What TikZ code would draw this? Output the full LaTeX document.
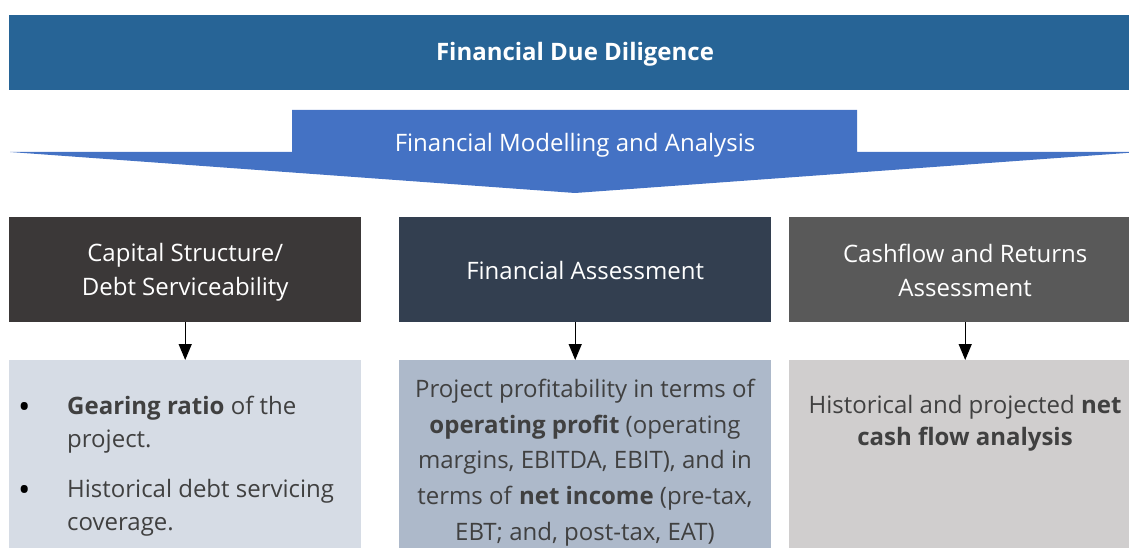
\documentclass[tikz,border=0pt]{standalone}
\usepackage{fontspec}
\setmainfont{Open Sans}
\usetikzlibrary{arrows.meta}
\definecolor{banner}{HTML}{276496}
\definecolor{arrowblue}{HTML}{4472C4}
\definecolor{hdA}{HTML}{3B3838}
\definecolor{hdB}{HTML}{333F50}
\definecolor{hdC}{HTML}{595959}
\definecolor{loA}{HTML}{D6DCE5}
\definecolor{loB}{HTML}{ADB9CA}
\definecolor{loC}{HTML}{D0CECE}
\definecolor{bodytext}{HTML}{404040}
\newcommand{\bigbul}{\textcolor{black}{\raisebox{-4pt}{\fontsize{33}{33}\selectfont\textbullet}}}
\begin{document}
\begin{tikzpicture}[x=1pt,y=-1pt,
  hdbox/.style={rectangle,inner sep=0pt,anchor=north west},
  hdtext/.style={text=white,align=center,inner sep=0pt,font=\fontsize{24}{34}\selectfont},
  lobox/.style={rectangle,inner sep=0pt,anchor=north west},
  lotext/.style={inner sep=0pt,text=bodytext,font=\fontsize{24}{32.5}\selectfont},
  conn/.style={line width=1.3pt,-{Triangle[width=13pt,length=16pt]}}]
\useasboundingbox (0,0) rectangle (1129,548);
\clip (0,0) rectangle (1129,548);
% banner
\node[rectangle,fill=banner,inner sep=0pt,anchor=north west,minimum width=1130pt,minimum height=75pt] (title) at (9,15) {};
\node[text=white,inner sep=0pt,font=\fontsize{24}{28}\selectfont\bfseries] (titletext) at (575,54) {Financial Due Diligence};
% block arrow
\fill[arrowblue] (292,110) -- (857,110) -- (857,152) -- (1140,152) -- (575,193) -- (10,152) -- (292,152) -- cycle;
\node[text=white,inner sep=0pt,font=\fontsize{24}{28}\selectfont] (sub) at (575,145) {Financial Modelling and Analysis};
% header boxes
\node[hdbox,fill=hdA,minimum width=352pt,minimum height=105pt] (h1) at (9,217) {};
\node[hdtext] (h1t) at ([yshift=-3pt]h1.center) {Capital Structure/\\Debt Serviceability};
\node[hdbox,fill=hdB,minimum width=372pt,minimum height=105pt] (h2) at (399,217) {};
\node[hdtext] (h2t) at ([yshift=-1pt]h2.center) {Financial Assessment};
\node[hdbox,fill=hdC,minimum width=352pt,minimum height=105pt] (h3) at (789,217) {};
\node[hdtext] (h3t) at ([yshift=-1pt]h3.center) {Cashflow and Returns\\Assessment};
% lower boxes
\node[lobox,fill=loA,minimum width=352pt,minimum height=200pt] (l1) at (9,360) {};
\node[lobox,fill=loB,minimum width=372pt,minimum height=200pt] (l2) at (399,360) {};
\node[lobox,fill=loC,minimum width=352pt,minimum height=200pt] (l3) at (789,360) {};
% connectors
\draw[conn] (h1.south) -- (l1.north);
\draw[conn] ([xshift=-10pt]h2.south) -- ([xshift=-10pt]l2.north);
\draw[conn] (h3.south) -- (l3.north);
% texts
\node[lotext,anchor=north west,align=left] (b1) at (18,392)
 {\begin{tabular}{@{}p{49pt}@{}p{290pt}@{}}
  \bigbul & \textbf{Gearing ratio} of the\\[0.5pt]
   & project.\\[17pt]
  \bigbul & Historical debt servicing\\[0.5pt]
   & coverage.
 \end{tabular}};
\node[lotext,anchor=north,align=center,font=\fontsize{24}{35.7}\selectfont] (b2) at (585,379)
 {Project profitability in terms of\\
  \textbf{operating profit} (operating\\
  margins, EBITDA, EBIT), and in\\
  terms of \textbf{net income} (pre-tax,\\
  EBT; and, post-tax, EAT)};
\node[lotext,anchor=north,align=center] (b3) at (965,395)
 {Historical and projected \textbf{net}\\
  \textbf{cash flow analysis}};
\end{tikzpicture}
\end{document}
